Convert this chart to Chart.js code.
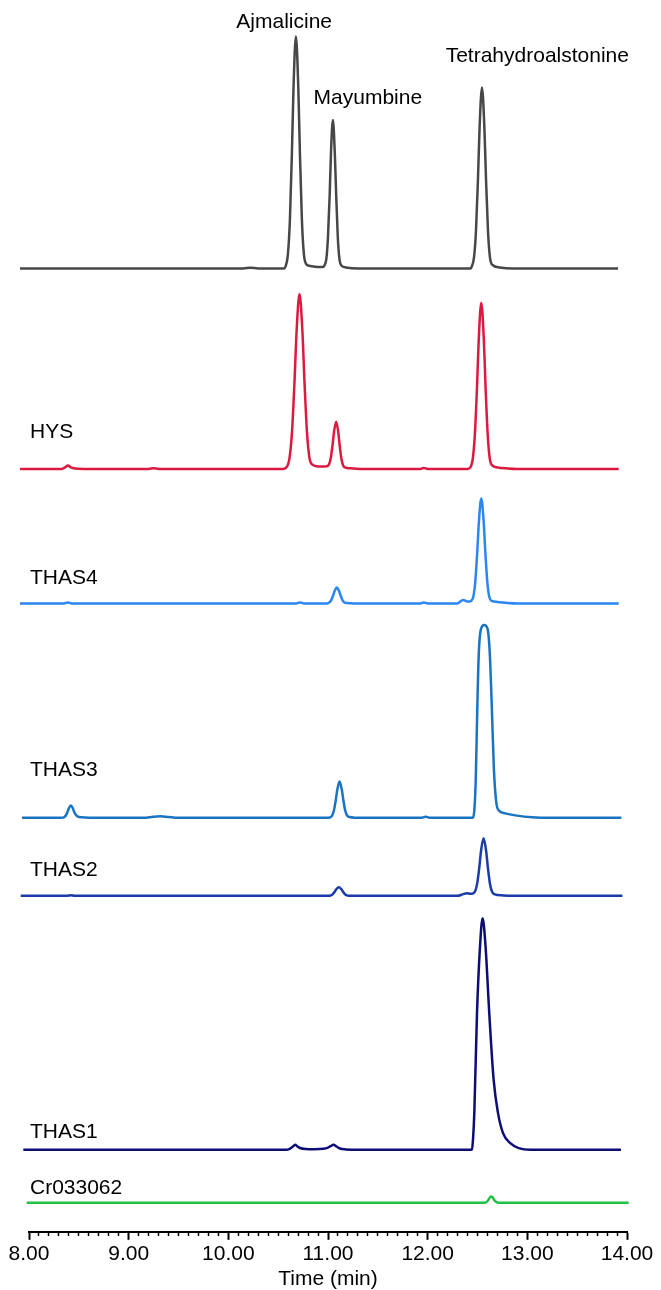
<!DOCTYPE html>
<html>
<head>
<meta charset="utf-8">
<script src="https://cdn.jsdelivr.net/npm/chart.js@4.4.1/dist/chart.umd.min.js"></script>
<style>
html,body{margin:0;padding:0;background:#fff}
#wrap{position:relative;width:661px;height:1290px}
</style>
</head>
<body>
<div id="wrap"><canvas id="c"></canvas></div>
<script>
// ---------------- DATA (time in min, signal in arbitrary units above each trace's baseline) ----------------
const traceNames = ['Standard', 'HYS', 'THAS4', 'THAS3', 'THAS2', 'THAS1', 'Cr033062'];
const majorTicks = [8, 9, 10, 11, 12, 13, 14];
const peakNames = ['Ajmalicine', 'Mayumbine', 'Tetrahydroalstonine'];

const standard = [
  [7.91,0],[10.15,0],[10.22,0.8],[10.30,0],[10.56,0],[10.574,2],[10.598,14.5],[10.618,49],[10.638,116],
  [10.654,181],[10.678,232],[10.702,181],[10.718,116],[10.738,49],[10.758,14.5],[10.78,4.5],[10.82,2.5],
  [10.90,1.5],[10.95,1.5],[10.964,3],[10.984,10],[11.0,32],[11.017,74],[11.03,116],[11.049,148.5],
  [11.068,116],[11.082,74],[11.098,32],[11.114,10],[11.134,3],[11.18,1],[11.30,0],[12.43,0],[12.441,1.7],
  [12.465,11],[12.485,38],[12.505,90.5],[12.521,141],[12.545,181],[12.569,141],[12.585,90.5],[12.605,38],
  [12.625,11],[12.65,3.5],[12.72,1],[12.85,0],[13.91,0]
];
const hys = [
  [7.91,0],[8.33,0],[8.36,1.5],[8.39,3.3],[8.42,1.5],[8.46,0.4],[8.55,0],[9.2,0],[9.25,0.7],[9.3,0],
  [10.55,0],[10.584,1.6],[10.614,11],[10.639,37],[10.664,87.5],[10.684,136],[10.714,175],[10.744,136],
  [10.764,87.5],[10.789,37],[10.814,11],[10.84,4.5],[10.9,2.5],[10.97,2.5],[10.99,2.8],[11.012,5],
  [11.0295,12],[11.047,25],[11.061,37.5],[11.082,47.3],[11.103,36.8],[11.117,23.6],[11.135,10],
  [11.152,3.5],[11.18,1.2],[11.25,0.5],[11.35,0],[11.93,0],[11.96,1],[12.0,0],[12.40,0],[12.428,1.5],
  [12.453,10.4],[12.474,35],[12.4955,83],[12.5125,129.5],[12.538,166.3],[12.5635,129.5],[12.5805,83],
  [12.602,35],[12.623,10.4],[12.648,3.5],[12.7,1.5],[12.8,0.5],[12.9,0],[13.917,0]
];
const thas4 = [
  [7.91,0],[8.35,0],[8.39,1],[8.43,0],[10.68,0],[10.72,1],[10.76,0],[10.99,0],[11.014,1],[11.033,3.3],
  [11.0515,7.9],[11.0665,12.3],[11.089,15.8],[11.1115,12.3],[11.1265,7.9],[11.145,3.3],[11.164,1],
  [11.19,0.3],[11.26,0],[11.93,0],[11.96,1],[12.0,0],[12.30,0],[12.33,2],[12.357,3.5],[12.38,2.5],
  [12.40,2],[12.42,1.8],[12.44,3],[12.458,6.6],[12.478,22],[12.498,52.4],[12.514,81.6],[12.538,104.8],
  [12.562,81.6],[12.578,52.4],[12.598,22],[12.618,6.6],[12.642,2.5],[12.7,1.5],[12.8,0.5],[12.9,0],
  [13.917,0]
];
const thas3 = [
  [7.93,0],[8.33,0],[8.355,0.8],[8.371,2.6],[8.3875,6.15],[8.4005,9.6],[8.42,12.3],[8.4395,9.6],
  [8.4525,6.15],[8.47,3.1],[8.49,1.2],[8.53,0.6],[8.6,0.2],[8.7,0],[9.15,0],[9.25,1.2],[9.32,1.6],
  [9.4,0.8],[9.5,0],[11.0,0],[11.0185,0.4],[11.041,2.3],[11.06,7.6],[11.0785,18.15],[11.0935,28.3],
  [11.116,36.3],[11.1385,28.3],[11.1535,18.15],[11.172,7.6],[11.191,2.5],[11.215,0.8],[11.28,0.2],
  [11.35,0],[11.93,0],[11.98,1],[12.03,0],[12.44,0],[12.455,0.5],[12.47,10],[12.483,40],[12.498,110],
  [12.513,165],[12.535,189],[12.568,193],[12.601,189],[12.623,165],[12.644,110],[12.664,50],[12.689,15],
  [12.719,7],[12.779,4.5],[12.88,2.5],[13.05,0.5],[13.25,0],[13.944,0]
];
const thas2 = [
  [7.917,0],[8.38,0],[8.42,0.6],[8.46,0],[11.01,0],[11.029,0.5],[11.049,1.8],[11.069,4.35],[11.085,6.8],
  [11.109,8.7],[11.133,6.8],[11.149,4.35],[11.169,1.8],[11.189,0.5],[11.23,0],[12.30,0],[12.35,1.5],
  [12.395,2.7],[12.43,2],[12.451,2.3],[12.476,4.5],[12.497,12.5],[12.5185,28.85],[12.5355,45],
  [12.561,57.7],[12.5865,45],[12.6035,28.85],[12.625,12.1],[12.646,4],[12.675,1.5],[12.75,0.5],
  [12.85,0],[13.954,0]
];
const thas1 = [
  [7.943,0],[10.58,0],[10.62,1.3],[10.645,3],[10.671,5],[10.695,3.3],[10.72,1.8],[10.78,0.8],[10.86,0.6],
  [10.95,1],[11.0,2.2],[11.025,3.6],[11.055,5],[11.085,3.3],[11.12,1.3],[11.18,0.4],[11.3,0],[12.42,0],
  [12.445,0.5],[12.456,12],[12.468,36.7],[12.495,136.7],[12.525,203],[12.551,231.7],[12.581,203],
  [12.618,136.7],[12.662,70],[12.706,36.7],[12.756,16.7],[12.829,6.7],[12.913,1.7],[13.03,0],[13.94,0]
];
const cr033062 = [
  [7.977,0],[12.55,0],[12.585,0.5],[12.61,3],[12.625,5.3],[12.639,6.3],[12.655,5],[12.67,2.5],
  [12.695,0.5],[12.73,0],[14.017,0]
];

// ---------------- LAYOUT / STYLE ----------------
const traces = [standard, hys, thas4, thas3, thas2, thas1, cr033062];
const baselineOffsets = [963.5, 763, 628.5, 414, 336, 82, 29];
const colors = ['#474747', '#dc1a40', '#2b86f2', '#1a74c2', '#1b3ba8', '#0d0d78', '#22c044'];
const FONT = '"Liberation Sans", Arial, Helvetica, sans-serif';

const textLabels = [
  {text: peakNames[0], t: 10.56, v: 1210, align: 'center'},
  {text: peakNames[1], t: 11.40, v: 1134, align: 'center'},
  {text: peakNames[2], t: 13.10, v: 1176, align: 'center'},
  {text: traceNames[1], t: 8.01, v: 800, align: 'left'},
  {text: traceNames[2], t: 8.01, v: 654, align: 'left'},
  {text: traceNames[3], t: 8.01, v: 462, align: 'left'},
  {text: traceNames[4], t: 8.01, v: 362, align: 'left'},
  {text: traceNames[5], t: 8.01, v: 100, align: 'left'},
  {text: traceNames[6], t: 8.01, v: 44, align: 'left'}
];

const isMajor = v => majorTicks.some(m => Math.abs(m - v) < 1e-6);

const labelPlugin = {
  id: 'traceLabels',
  afterDatasetsDraw(chart) {
    const {ctx} = chart;
    const x = chart.scales.x, y = chart.scales.y;
    ctx.save();
    ctx.font = '21px ' + FONT;
    ctx.fillStyle = '#000';
    ctx.textBaseline = 'middle';
    for (const L of textLabels) {
      ctx.textAlign = L.align;
      ctx.fillText(L.text, x.getPixelForValue(L.t), y.getPixelForValue(L.v));
    }
    ctx.restore();
  }
};

new Chart(document.getElementById('c'), {
  type: 'line',
  data: {
    datasets: traces.map((tr, i) => ({
      label: traceNames[i],
      data: tr.map(([t, v]) => ({x: t, y: v + baselineOffsets[i]})),
      borderColor: colors[i],
      borderWidth: 2.5,
      pointRadius: 0,
      fill: false,
      cubicInterpolationMode: 'monotone',
      clip: false
    }))
  },
  options: {
    responsive: true,
    maintainAspectRatio: false,
    animation: false,
    layout: {padding: {left: 29, right: 34, top: 0, bottom: 0}},
    plugins: {legend: {display: false}, tooltip: {enabled: false}},
    scales: {
      x: {
        type: 'linear', min: 8, max: 14, position: 'bottom',
        border: {display: true, color: '#000', width: 2},
        grid: {
          display: true, drawOnChartArea: false, drawTicks: true, tickLength: 8, tickColor: '#000',
          tickWidth: ctx => (ctx.tick && isMajor(ctx.tick.value)) ? 2 : 1.5,
          tickBorderDash: ctx => (ctx.tick && isMajor(ctx.tick.value)) ? [] : [3, 20]
        },
        ticks: {
          stepSize: 0.1, autoSkip: false, maxRotation: 0, padding: 2, color: '#000',
          font: {family: FONT, size: 21},
          callback: v => isMajor(v) ? Number(v).toFixed(2) : ''
        },
        title: {display: true, text: 'Time (min)', color: '#000', font: {family: FONT, size: 21, lineHeight: 1.0}, padding: {top: 0, bottom: 0}}
      },
      y: {type: 'linear', display: false, min: 0, max: 1232}
    }
  },
  plugins: [labelPlugin]
});
</script>
</body>
</html>
